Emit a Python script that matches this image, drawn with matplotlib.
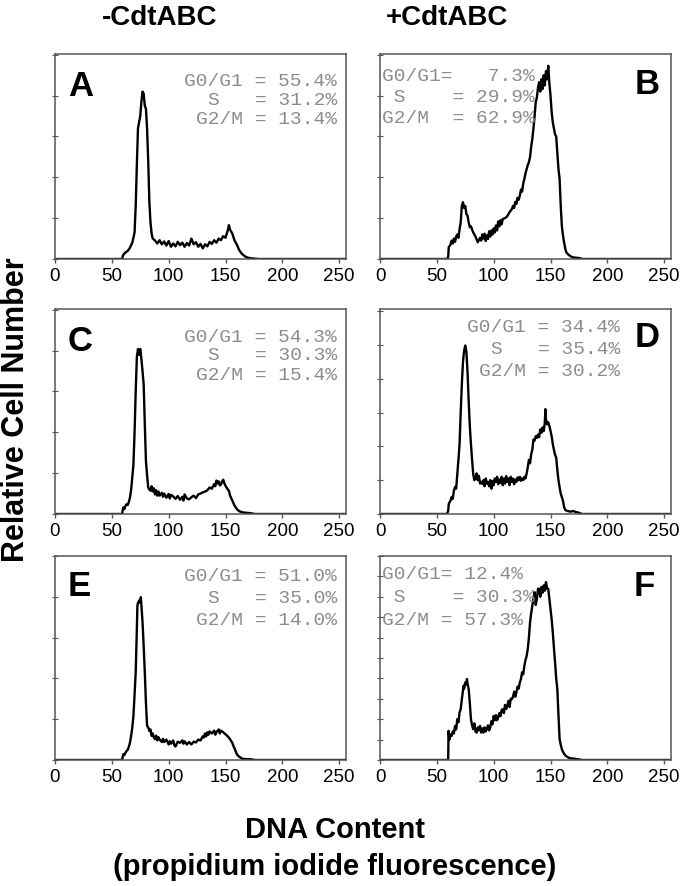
import matplotlib
matplotlib.use("Agg")
import matplotlib.pyplot as plt

# --- data (channel, relative height in y-tick steps) ---
a_x = [0, 59, 60, 62, 64, 66, 68, 70, 71, 72, 73, 74, 75, 76, 77, 78, 79, 80, 81, 82, 83, 84, 85, 86, 88, 90,
       92, 94, 96, 98, 100, 102, 104, 106, 108, 110, 112, 114, 116, 118, 120, 122, 124, 126, 128, 130, 132, 134,
       136, 138, 140, 142, 144, 146, 148, 150, 152, 153, 154, 156, 158, 160, 162, 164, 166, 168, 170, 172, 175,
       180, 255]
a_y = [0, 0, 0.1, 0.16, 0.2, 0.28, 0.4, 0.65, 1.3, 2.3, 3.2, 3.35, 3.5, 3.85, 4.1, 4.05, 3.75, 3.68, 3.2, 2.4,
       1.4, 0.9, 0.62, 0.5, 0.45, 0.38, 0.46, 0.36, 0.43, 0.33, 0.44, 0.30, 0.38, 0.31, 0.42, 0.34, 0.40, 0.30,
       0.39, 0.33, 0.50, 0.36, 0.41, 0.30, 0.37, 0.26, 0.36, 0.31, 0.42, 0.37, 0.46, 0.40, 0.50, 0.46, 0.56, 0.52,
       0.70, 0.83, 0.72, 0.62, 0.45, 0.35, 0.22, 0.14, 0.09, 0.05, 0.03, 0.02, 0.01, 0, 0]

b_x = [0, 59, 60, 60.5, 62, 63, 64, 65, 66, 67, 68, 69, 70, 71, 72, 73, 74, 75, 76, 77, 78, 79, 80, 82, 84, 86,
       88, 89, 90, 91, 92, 93, 94, 95, 96, 97, 98, 99, 100, 101, 102, 103, 104, 105, 106, 107, 108, 110, 112,
       114, 116, 117, 118, 119, 120, 121, 122, 123, 124, 125, 126, 127, 128, 129, 130, 131, 132, 133, 134, 135,
       136, 137, 138, 139, 140, 141, 142, 143, 144, 145, 146, 147, 148, 149, 150, 151, 152, 153, 154, 155, 156,
       157, 158, 159, 160, 161, 162, 163, 164, 166, 168, 170, 173, 176, 178, 255]
b_y = [0, 0, 0.05, 0.29, 0.35, 0.45, 0.38, 0.5, 0.42, 0.55, 0.6, 0.52, 0.73, 0.9, 1.3, 1.39, 1.25, 1.3, 1.1,
       1.06, 0.9, 0.78, 0.8, 0.65, 0.55, 0.41, 0.52, 0.45, 0.6, 0.5, 0.62, 0.44, 0.58, 0.49, 0.68, 0.55, 0.7,
       0.6, 0.75, 0.65, 0.82, 0.7, 0.92, 0.8, 0.95, 0.85, 0.98, 1.0, 1.05, 1.15, 1.22, 1.3, 1.25, 1.4, 1.35, 1.5,
       1.45, 1.55, 1.7, 1.65, 1.85, 1.96, 2.1, 2.2, 2.3, 2.37, 2.5, 2.75, 2.94, 3.2, 3.5, 3.84, 3.95, 4.2, 4.33,
       4.1, 4.4, 4.16, 4.5, 4.25, 4.6, 4.4, 4.73, 4.3, 4.0, 3.6, 3.35, 3.2, 3.05, 3.0, 2.6, 2.2, 1.96, 1.3, 0.8,
       0.57, 0.4, 0.25, 0.16, 0.1, 0.06, 0.04, 0.03, 0.02, 0, 0]

c_x = [0, 59, 60, 61, 62, 63, 64, 65, 66, 67, 68, 69, 70, 71, 72, 73, 74, 75, 76, 77, 78, 79, 80, 81, 82, 83,
       84, 85, 86, 87, 88, 89, 90, 91, 92, 94, 95, 96, 98, 100, 101, 102, 104, 106, 108, 110, 112, 113, 114, 116,
       118, 120, 122, 124, 126, 128, 130, 132, 134, 136, 138, 140, 141, 142, 143, 144, 145, 146, 147, 148, 149,
       150, 152, 153, 154, 156, 158, 160, 162, 165, 168, 172, 176, 255]
c_y = [0, 0, 0.16, 0.12, 0.2, 0.24, 0.22, 0.3, 0.41, 0.6, 0.9, 1.22, 2.0, 3.0, 3.84, 4.04, 3.9, 4.04, 3.8, 3.5,
       3.18, 2.2, 1.3, 0.95, 0.65, 0.6, 0.57, 0.68, 0.55, 0.63, 0.48, 0.58, 0.45, 0.55, 0.45, 0.52, 0.42, 0.5,
       0.4, 0.49, 0.38, 0.47, 0.43, 0.37, 0.44, 0.35, 0.42, 0.33, 0.48, 0.38, 0.36, 0.41, 0.45, 0.39, 0.48, 0.5,
       0.53, 0.55, 0.58, 0.65, 0.62, 0.73, 0.68, 0.82, 0.75, 0.8, 0.7, 0.72, 0.8, 0.84, 0.75, 0.69, 0.6, 0.57,
       0.45, 0.33, 0.2, 0.12, 0.07, 0.04, 0.03, 0.02, 0, 0]

d_x = [0, 59, 60, 60.5, 62, 63, 64, 65, 66, 67, 68, 69, 70, 71, 72, 73, 74, 75, 76, 77, 78, 79, 80, 81, 82, 83,
       84, 85, 86, 87, 88, 89, 90, 91, 92, 93, 94, 95, 96, 97, 98, 99, 100, 101, 102, 103, 104, 105, 106, 107,
       108, 109, 110, 111, 112, 113, 114, 115, 116, 117, 118, 119, 120, 121, 122, 123, 124, 125, 126, 127, 128,
       129, 130, 131, 132, 133, 134, 135, 136, 137, 138, 139, 140, 141, 142, 143, 144, 145, 145.5, 146, 147,
       148, 149, 150, 151, 152, 153, 154, 155, 156, 157, 158, 159, 160, 161, 162, 163, 164, 166, 168, 170, 172,
       174, 176, 178, 255]
d_y = [0, 0, 0.1, 0.3, 0.39, 0.5, 0.45, 0.69, 0.8, 0.75, 1.18, 1.6, 2.07, 3.0, 3.84, 4.5, 4.83, 4.98, 4.8, 4.2,
       3.35, 2.6, 2.07, 1.6, 1.18, 1.0, 1.05, 1.2, 1.0, 1.13, 0.9, 0.95, 0.89, 1.0, 0.82, 1.05, 0.9, 0.95, 0.82,
       1.0, 0.75, 0.98, 0.85, 1.05, 0.95, 1.1, 0.88, 1.02, 0.92, 1.1, 0.85, 1.05, 0.9, 1.12, 0.95, 1.05, 0.85,
       1.1, 0.95, 1.05, 0.88, 1.02, 0.95, 1.08, 1.0, 1.1, 0.98, 1.05, 1.0, 1.1, 1.05, 1.2, 1.38, 1.6, 1.5, 1.77,
       1.9, 2.2, 2.17, 2.3, 2.25, 2.35, 2.27, 2.5, 2.4, 2.56, 2.45, 2.7, 3.1, 2.8, 2.65, 2.71, 2.6, 2.46, 2.3,
       2.07, 1.9, 1.75, 1.67, 1.3, 1.0, 0.79, 0.6, 0.5, 0.39, 0.2, 0.12, 0.1, 0.08, 0.07, 0.09, 0.06, 0.05,
       0.02, 0, 0]

e_x = [0, 59, 60, 61, 62, 63, 64, 65, 66, 67, 68, 69, 70, 71, 72, 72.5, 73, 74, 75, 75.5, 76, 77, 78, 79, 80,
       81, 82, 83, 84, 85, 86, 87, 88, 89, 90, 91, 92, 94, 95, 96, 98, 100, 101, 102, 104, 105, 106, 108, 110,
       112, 113, 114, 116, 118, 120, 122, 124, 126, 128, 130, 131, 132, 133, 134, 135, 136, 138, 140, 141, 142,
       144, 145, 146, 148, 150, 152, 154, 156, 157, 158, 160, 162, 165, 168, 172, 176, 255]
e_y = [0, 0, 0.14, 0.12, 0.18, 0.22, 0.25, 0.33, 0.43, 0.6, 0.8, 1.08, 1.6, 2.15, 3.2, 3.79, 3.85, 3.91, 3.85,
       3.99, 3.8, 3.38, 2.8, 2.15, 1.4, 0.84, 0.8, 0.71, 0.75, 0.59, 0.65, 0.55, 0.51, 0.6, 0.48, 0.56, 0.5,
       0.44, 0.52, 0.44, 0.5, 0.38, 0.46, 0.4, 0.48, 0.36, 0.33, 0.45, 0.42, 0.48, 0.4, 0.46, 0.38, 0.44, 0.38,
       0.45, 0.43, 0.5, 0.48, 0.58, 0.55, 0.65, 0.58, 0.68, 0.62, 0.7, 0.65, 0.72, 0.62, 0.68, 0.75, 0.65, 0.72,
       0.68, 0.63, 0.58, 0.51, 0.42, 0.34, 0.28, 0.14, 0.08, 0.03, 0.02, 0.02, 0, 0]

f_x = [0, 59, 60, 60.3, 61, 62, 63, 64, 65, 66, 67, 68, 69, 70, 71, 72, 73, 73.5, 74, 75, 76, 76.5, 77, 78, 79,
       80, 81, 82, 83, 84, 85, 86, 87, 88, 89, 90, 91, 92, 93, 94, 95, 96, 97, 98, 99, 100, 101, 102, 103, 104,
       105, 106, 107, 108, 109, 110, 111, 112, 113, 114, 115, 116, 117, 118, 119, 120, 121, 122, 123, 124, 125,
       126, 127, 128, 129, 130, 131, 132, 133, 134, 135, 136, 137, 138, 139, 140, 141, 142, 143, 144, 145, 146,
       147, 148, 149, 150, 151, 152, 153, 154, 155, 156, 157, 158, 159, 160, 161, 162, 163, 164, 166, 168, 170,
       172, 175, 178, 255]
f_y = [0, 0, 0.05, 1.43, 1.0, 1.25, 1.18, 1.4, 1.3, 1.67, 1.5, 2.0, 1.85, 2.33, 2.5, 2.98, 3.4, 3.64, 3.5, 3.8,
       3.7, 3.97, 3.75, 3.48, 2.8, 2.0, 1.7, 1.51, 1.8, 1.4, 1.34, 1.6, 1.45, 1.67, 1.35, 1.55, 1.34, 1.6, 1.4,
       1.51, 1.7, 1.45, 1.59, 1.9, 1.75, 2.16, 1.95, 2.2, 1.95, 2.08, 2.3, 2.15, 2.45, 2.49, 2.3, 2.7, 2.5, 2.66,
       2.9, 2.6, 3.0, 2.98, 3.1, 3.35, 3.1, 3.31, 3.6, 3.5, 3.8, 3.97, 4.3, 4.2, 4.62, 4.9, 5.1, 5.44, 6.0, 6.75,
       7.2, 7.57, 7.9, 8.23, 7.6, 7.9, 8.4, 8.39, 8.0, 8.48, 8.2, 8.56, 8.3, 8.72, 8.4, 8.39, 7.9, 7.4, 6.9, 6.26,
       5.5, 4.79, 4.0, 3.48, 2.2, 1.02, 0.75, 0.52, 0.4, 0.3, 0.23, 0.18, 0.11, 0.08, 0.07, 0.05, 0.03, 0, 0]

letters = ["A", "B", "C", "D", "E", "F"]
y_tops = [5.02, 5.02, 5.02, 6.06, 5.0, 10.0]
stats = [
    ["G0/G1 = 55.4%", "S   = 31.2%", "G2/M = 13.4%"],
    ["G0/G1=   7.3%", " S    = 29.9%", "G2/M  = 62.9%"],
    ["G0/G1 = 54.3%", "S   = 30.3%", "G2/M = 15.4%"],
    ["G0/G1 = 34.4%", "S   = 35.4%", "G2/M = 30.2%"],
    ["G0/G1 = 51.0%", "S   = 35.0%", "G2/M = 14.0%"],
    ["G0/G1= 12.4%", " S    = 30.3%", "G2/M = 57.3%"],
]
xs = [a_x, b_x, c_x, d_x, e_x, f_x]
ys = [a_y, b_y, c_y, d_y, e_y, f_y]

plt.rcParams["font.family"] = ["Liberation Sans", "DejaVu Sans"]

W, H = 681, 887
fig = plt.figure(figsize=(W / 100, H / 100), dpi=100)


def rect(l, t, r, b):
    return [l / W, 1 - b / H, (r - l) / W, (b - t) / H]


boxes = [(55, 55, 346, 260), (380, 55, 671, 260),
         (55, 310, 346, 515), (380, 310, 671, 515),
         (55, 557, 346, 761), (380, 557, 671, 761)]

# stats text placement: (anchor side, x offset px, first line offset px, line spacing px)
stat_pos = [("right", -9, -27, 19), ("left", 2, -22, 21),
            ("right", -9, -27, 19), ("right", -51, -18, 22),
            ("right", -9, -20, 22), ("left", 2, -18, 23)]
letter_pos = [("left", 13, -15), ("right", -11, -13),
              ("left", 13, -15), ("right", -11, -11),
              ("left", 13, -13), ("right", -16, -13)]

for i in range(6):
    ax = fig.add_axes(rect(*boxes[i]))
    ax.plot(xs[i], ys[i], color="black", lw=1.7)
    ax.set_xlim(0, 256)
    ax.set_ylim(0, y_tops[i])
    ax.set_xticks([0, 50, 100, 150, 200, 250])
    ax.set_yticks(range(0, int(y_tops[i]) + 1))
    ax.set_yticklabels([])
    ax.tick_params(axis="x", length=3, width=1, color="#555555", labelsize=13.5, pad=3)
    ax.tick_params(axis="y", direction="inout", length=4, width=0.8, color="#555555")
    for sp in ax.spines.values():
        sp.set_color("#555555")
        sp.set_linewidth(1.1)

    side, dx, dy, step = stat_pos[i]
    ax_x = 1 if side == "right" else 0
    for k, line in enumerate(stats[i]):
        ax.annotate(line, xy=(ax_x, 1), xycoords="axes fraction",
                    xytext=(dx, dy - k * step), textcoords="offset pixels",
                    ha=side, va="center", family="Liberation Mono", fontsize=14, color="#8c8c8c")

    side, dx, dy = letter_pos[i]
    ax_x = 1 if side == "right" else 0
    ax.annotate(letters[i], xy=(ax_x, 1), xycoords="axes fraction",
                xytext=(dx, dy), textcoords="offset pixels",
                ha=side, va="top", fontsize=25, fontweight="bold")

fig.text(160 / W, 1 - 18 / H, "-CdtABC", ha="center", va="center", fontsize=20, fontweight="bold")
fig.text(447 / W, 1 - 18 / H, "+CdtABC", ha="center", va="center", fontsize=20, fontweight="bold")
fig.text(16 / W, 1 - 410 / H, "Relative Cell Number", rotation=90, ha="center", va="center",
         fontsize=22, fontweight="bold")
fig.text(335 / W, 1 - 830 / H, "DNA Content", ha="center", va="center", fontsize=21, fontweight="bold")
fig.text(335 / W, 1 - 867 / H, "(propidium iodide fluorescence)", ha="center", va="center",
         fontsize=21, fontweight="bold")

fig.savefig("out.png", dpi=100)
